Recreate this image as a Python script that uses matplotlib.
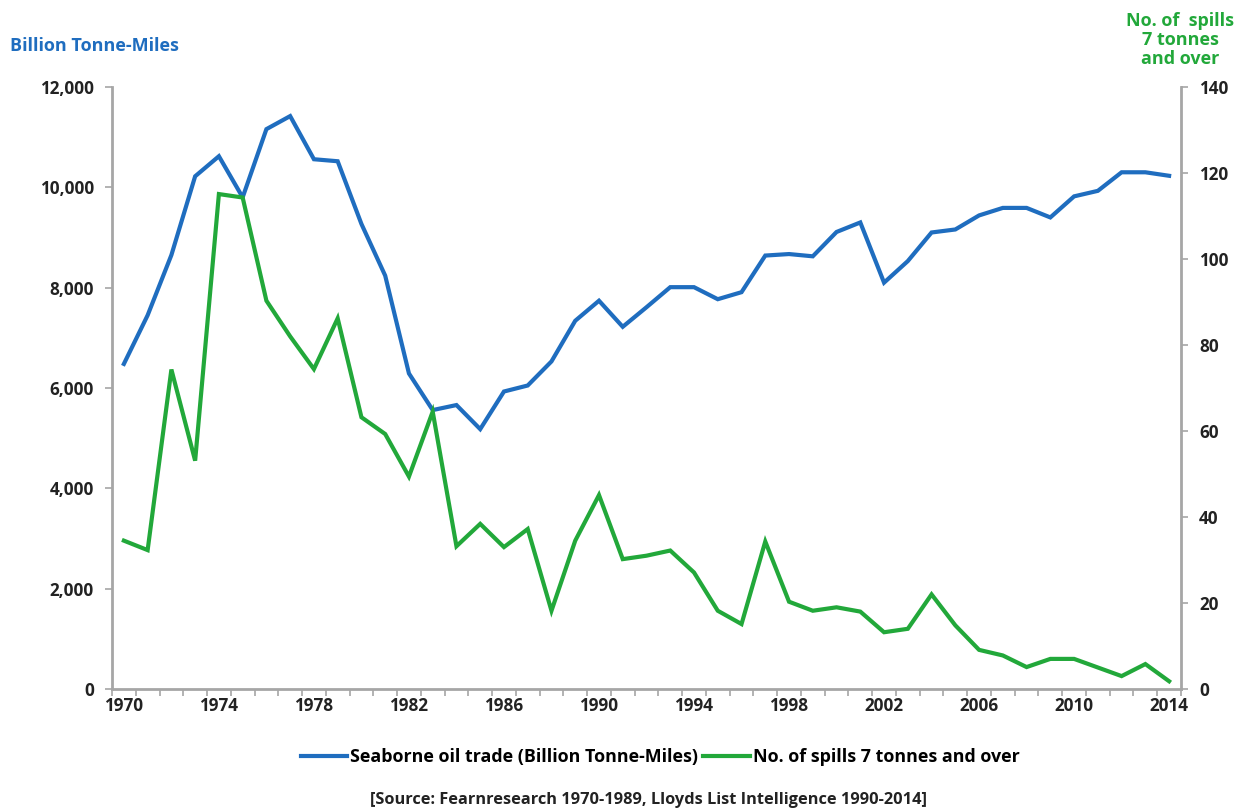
import numpy as np
import matplotlib
matplotlib.use("Agg")
import matplotlib.pyplot as plt
from matplotlib.ticker import FuncFormatter, MultipleLocator, FixedLocator

years = list(range(1970, 2015))

# Seaborne oil trade, billion tonne-miles (left axis)
trade = [6480, 7450, 8650, 10220, 10620, 9800, 11160, 11420, 10560, 10520,
         9270, 8240, 6290, 5560, 5660, 5180, 5930, 6050, 6530, 7340,
         7740, 7220, 7610, 8010, 8010, 7770, 7910, 8640, 8670, 8625,
         9110, 9300, 8100, 8530, 9100, 9160, 9440, 9590, 9590, 9400,
         9820, 9930, 10300, 10300, 10230]

# Number of spills 7 tonnes and over (right axis)
spills = [34.5, 32.3, 74.3, 53.1, 115.1, 114.3, 90.3, 82.0, 74.4, 86.2,
          63.2, 59.3, 49.4, 64.5, 33.2, 38.4, 33.0, 37.2, 18.2, 34.5,
          45.1, 30.2, 31.0, 32.2, 27.1, 18.2, 15.1, 34.3, 20.3, 18.2,
          19.0, 18.0, 13.2, 14.0, 22.0, 14.8, 9.1, 7.8, 5.1, 7.0,
          7.0, 5.0, 3.0, 5.8, 1.8]

BLUE = "#1f6dbf"
GREEN = "#22a83a"
AXC = "#a6a6a6"
TXT = "#222222"
FONT = ["Open Sans", "DejaVu Sans"]

plt.rcParams["font.family"] = FONT
plt.rcParams["font.weight"] = "bold"

fig = plt.figure(figsize=(12.47, 8.11), dpi=100)
ax = fig.add_axes([112 / 1247, 1 - 689 / 811, (1181 - 112) / 1247, (689 - 87) / 811])
ax2 = ax.twinx()

x = np.arange(len(years))
ax.plot(x, trade, color=BLUE, lw=3.0, solid_joinstyle="miter",
        label="Seaborne oil trade (Billion Tonne-Miles)")
ax2.plot(x, spills, color=GREEN, lw=3.0, solid_joinstyle="miter",
         label="No. of spills 7 tonnes and over")

ax.set_xlim(-0.5, len(years) - 0.5)
ax.set_ylim(0, 12000)
ax2.set_ylim(0, 140)
ax.yaxis.set_major_locator(MultipleLocator(2000))
ax2.yaxis.set_major_locator(MultipleLocator(20))
ax.yaxis.set_major_formatter(FuncFormatter(lambda v, p: f"{int(v):,}"))

# category axis: ticks between categories, labels every 4 years
ax.xaxis.set_major_locator(FixedLocator(x[::4]))
ax.set_xticklabels([str(y) for y in years[::4]])
ax.xaxis.set_minor_locator(FixedLocator(np.arange(-0.5, len(years), 1.0)))
ax.tick_params(axis="x", which="major", length=0, pad=6)
ax.tick_params(axis="x", which="minor", length=5, width=1.2, color=AXC, direction="out")

for a in (ax, ax2):
    for s in a.spines.values():
        s.set_visible(False)
ax.spines["left"].set_visible(True)
ax.spines["bottom"].set_visible(True)
ax2.spines["right"].set_visible(True)
for s in (ax.spines["left"], ax.spines["bottom"], ax2.spines["right"]):
    s.set_color(AXC)
    s.set_linewidth(2.0)

ax.tick_params(axis="y", length=5, width=1.2, color=AXC, pad=8)
ax2.tick_params(axis="y", length=5, width=1.2, color=AXC, pad=8)
for lab in ax.get_xticklabels() + ax.get_yticklabels() + ax2.get_yticklabels():
    lab.set_fontsize(12.3)
    lab.set_color(TXT)
    lab.set_fontweight("bold")

fig.text(10 / 1247, 1 - 46 / 811, "Billion Tonne-Miles", color=BLUE, fontsize=13,
         fontweight="bold", ha="left", va="center")
fig.text(1180 / 1247, 1 - 40 / 811, "No. of  spills\n7 tonnes\nand over", color=GREEN,
         fontsize=13, fontweight="bold", ha="center", va="center", linespacing=1.05)

h1, l1 = ax.get_legend_handles_labels()
h2, l2 = ax2.get_legend_handles_labels()
fig.legend(h1 + h2, l1 + l2, loc="center", bbox_to_anchor=(660 / 1247, 1 - 757 / 811),
           ncol=2, frameon=False, handlelength=2.6, handletextpad=0.15, columnspacing=0.3,
           prop={"size": 12.9, "weight": "bold"})

fig.text(649 / 1247, 1 - 800 / 811,
         "[Source: Fearnresearch 1970-1989, Lloyds List Intelligence 1990-2014]",
         fontsize=11.8, fontweight="bold", color=TXT, ha="center", va="center")

fig.savefig("out.png", dpi=100)
